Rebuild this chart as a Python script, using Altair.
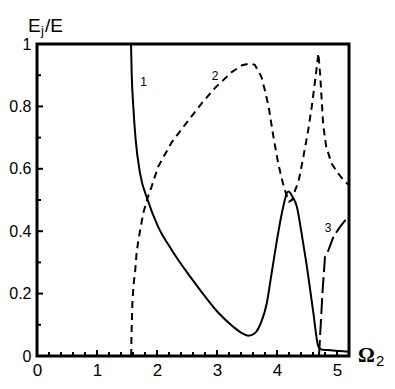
import altair as alt
import pandas as pd

# ---- data ----
c1_x = [1.567, 1.578, 1.605, 1.645, 1.717, 1.845, 2.02, 2.245, 2.55, 2.717, 3.03,
        3.27, 3.4, 3.52, 3.63, 3.74, 3.83, 3.91, 4.0, 4.08, 4.19, 4.26,
        4.33, 4.41, 4.49, 4.6, 4.69, 4.74, 4.83, 5.05, 5.2]
c1_y = [1.0, 0.906, 0.799, 0.692, 0.586, 0.5, 0.414, 0.34, 0.255, 0.212, 0.137,
        0.094, 0.075, 0.065, 0.073, 0.11, 0.169, 0.265, 0.372, 0.457,
        0.527, 0.51, 0.479, 0.393, 0.297, 0.147, 0.03, 0.021, 0.019, 0.016, 0.014]

c2_x = [1.57, 1.575, 1.59, 1.61, 1.635, 1.66, 1.69, 1.77, 1.84, 1.91, 2.02, 2.245, 2.47,
        2.745, 2.97, 3.245, 3.42, 3.55, 3.63, 3.74, 3.8, 3.86, 3.94, 4.02, 4.1, 4.15, 4.2,
        4.25, 4.3, 4.36, 4.44, 4.52, 4.58, 4.63, 4.69, 4.72, 4.745, 4.77, 4.82, 4.91,
        5.02, 5.13, 5.2]
c2_y = [0.0, 0.07, 0.17, 0.23, 0.27, 0.33, 0.372, 0.457, 0.505, 0.543, 0.607, 0.685, 0.742,
        0.81, 0.86, 0.91, 0.932, 0.938, 0.933, 0.895, 0.85, 0.8, 0.703, 0.617,
        0.553, 0.52, 0.495, 0.5, 0.53, 0.56, 0.639, 0.724, 0.8, 0.875, 0.97, 0.9, 0.82,
        0.74, 0.671, 0.617, 0.585, 0.559, 0.548]

c3_x = [4.7, 4.73, 4.76, 4.8, 4.86, 4.94, 5.05, 5.2]
c3_y = [0.0, 0.105, 0.21, 0.318, 0.34, 0.382, 0.414, 0.45]

label_x = [1.775, 2.97, 4.85]
label_y = [0.878, 0.897, 0.41]
label_text = ["1", "2", "3"]

x_major = [0, 1, 2, 3, 4, 5]
x_minor = [0.2, 0.4, 0.6, 0.8, 1.2, 1.4, 1.6, 1.8, 2.2, 2.4, 2.6, 2.8, 3.2, 3.4, 3.6,
           3.8, 4.2, 4.4, 4.6, 4.8, 5.0]
y_major = [0, 0.2, 0.4, 0.6, 0.8, 1.0]
y_minor = [0.1, 0.3, 0.5, 0.7, 0.9]

W = 312
H = 312
FONT = "Liberation Sans, Arial, sans-serif"


def df(xs, ys):
    return pd.DataFrame({"x": xs, "y": ys, "order": list(range(len(xs)))})


xsc = alt.Scale(domain=[0, 5.2], nice=False, zero=False)
ysc = alt.Scale(domain=[0, 1], nice=False, zero=False)

X = alt.X("x:Q", scale=xsc, axis=alt.Axis(values=x_major, title=None, tickSize=0, domain=False,
                                          grid=False, labelFontSize=17, labelPadding=6,
                                          labelFont=FONT, labelColor="black", format="~g",
                                          labelFlush=False))
Y = alt.Y("y:Q", scale=ysc, axis=alt.Axis(values=y_major, title=None, tickSize=0, domain=False,
                                          grid=False, labelFontSize=16, labelPadding=6,
                                          labelFont=FONT, labelColor="black", format="~g",
                                          labelFlush=False))

line1 = alt.Chart(df(c1_x, c1_y)).mark_line(color="black", strokeWidth=2,
                                            interpolate="monotone").encode(
    x=X, y=Y, order="order:Q")
line2 = alt.Chart(df(c2_x, c2_y)).mark_line(color="black", strokeWidth=2, strokeDash=[7, 5]).encode(
    x=X, y=Y, order="order:Q")
line3 = alt.Chart(df(c3_x, c3_y)).mark_line(color="black", strokeWidth=2, strokeDash=[16, 5]).encode(
    x=X, y=Y, order="order:Q")

labels = alt.Chart(pd.DataFrame({"x": label_x, "y": label_y, "t": label_text})).mark_text(
    font="Liberation Sans", fontSize=12, color="black").encode(
    x=X, y=Y, text="t:N")

xmaj = alt.Chart(pd.DataFrame({"x": x_major})).mark_rule(color="black", strokeWidth=2).encode(
    x=X, y=alt.value(H), y2=alt.value(H - 6))
xmin = alt.Chart(pd.DataFrame({"x": x_minor})).mark_rule(color="black", strokeWidth=2).encode(
    x=X, y=alt.value(H), y2=alt.value(H - 4))
ymaj = alt.Chart(pd.DataFrame({"y": y_major})).mark_rule(color="black", strokeWidth=2).encode(
    y=Y, x=alt.value(0), x2=alt.value(6))
ymin = alt.Chart(pd.DataFrame({"y": y_minor})).mark_rule(color="black", strokeWidth=2).encode(
    y=Y, x=alt.value(0), x2=alt.value(4))

t_E = alt.Chart(pd.DataFrame({"t": ["E"]})).mark_text(
    font=FONT, fontSize=19, align="left", baseline="alphabetic", color="black").encode(
    x=alt.value(-9), y=alt.value(-12), text="t:N")
t_j = alt.Chart(pd.DataFrame({"t": ["j"]})).mark_text(
    font=FONT, fontSize=13, align="left", baseline="alphabetic", color="black").encode(
    x=alt.value(4), y=alt.value(-9), text="t:N")
t_E2 = alt.Chart(pd.DataFrame({"t": ["/E"]})).mark_text(
    font=FONT, fontSize=19, align="left", baseline="alphabetic", color="black").encode(
    x=alt.value(8), y=alt.value(-12), text="t:N")
t_O = alt.Chart(pd.DataFrame({"t": ["Ω"]})).mark_text(
    font="Liberation Serif", fontSize=21, fontWeight="bold", align="left",
    baseline="alphabetic", color="black").encode(
    x=alt.value(321), y=alt.value(H + 6), text="t:N")
t_2 = alt.Chart(pd.DataFrame({"t": ["2"]})).mark_text(
    font=FONT, fontSize=15, align="left", baseline="alphabetic", color="black").encode(
    x=alt.value(339), y=alt.value(H + 10), text="t:N")

chart = alt.layer(
    line1, line2, line3, labels, xmaj, xmin, ymaj, ymin, t_E, t_j, t_E2, t_O, t_2
).properties(
    width=W, height=H,
    padding={"left": 29, "top": 36, "right": 38, "bottom": 25},
    autosize="none",
    background="white",
).configure_view(
    stroke="black", strokeWidth=3
)

chart.save("out.html", embed_options={"renderer": "svg", "actions": False})
